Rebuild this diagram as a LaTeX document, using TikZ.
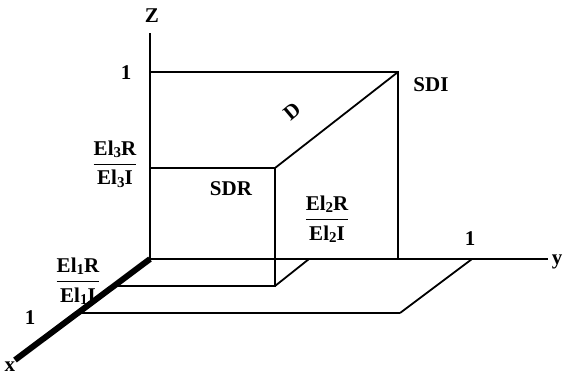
\documentclass[tikz,border=0pt]{standalone}
\usepackage{amsmath}
\usepackage{fontspec}
\setmainfont{Liberation Serif}
\usepackage{tikz}
\usetikzlibrary{positioning}
\newcommand{\elsub}[1]{\raisebox{-.25ex}{\fontsize{7.5}{8}\selectfont #1}}
\newcommand{\elfrac}[1]{$\dfrac{\text{El\elsub{#1}R}}{\text{El\elsub{#1}I}}$}

\begin{document}
\begin{tikzpicture}[
  x=0.5pt, y=-0.5pt,
  font=\fontsize{10.5}{12}\selectfont\bfseries,
  axis/.style={line width=1.2pt},
  xaxis/.style={line width=3pt},
  frame/.style={line width=0.6pt},
  diag/.style={line width=0.9pt},
  lbl/.style={inner sep=0pt},
]
\useasboundingbox (0,0) rectangle (563,377);

% axes end points
\coordinate (O)  at (150,259);
\coordinate (zt) at (150,33);
\coordinate (yt) at (548,259);
\coordinate (xt) at (15,360);

% corners of the unit box and of the plane
\coordinate (zone)  at (150,72);
\coordinate (sdi)   at (398,72);
\coordinate (sdib)  at (398,259);
\coordinate (elz)   at (150,168);
\coordinate (sdr)   at (275,168);
\coordinate (sdrf)  at (275,286);
\coordinate (xa)    at (117,286);
\coordinate (ya)    at (309,259);
\coordinate (xone)  at (81,313);
\coordinate (bcorn) at (400,313);
\coordinate (yone)  at (472,259);

\draw[frame] (zone) -- (sdi) -- (sdib);
\draw[frame] (elz) -- (sdr) -- (sdrf) -- (xa);
\draw[diag]  (sdrf) -- (ya);
\draw[diag]  (sdr) -- (sdi);
\draw[frame] (xone) -- (bcorn);
\draw[diag]  (bcorn) -- (yone);

\draw[axis]  (O) -- (zt);
\draw[axis]  (O) -- (yt);
\draw[xaxis] (O) -- (xt);

\node[lbl] (zlbl)  at (152,16)  {Z};
\node[lbl] (ylbl)  at (557,262) {y};
\node[lbl] (xlbl)  at (10,367)  {x};
\node[lbl] (zonel) at (126,73)  {1};
\node[lbl] (yonel) at (470,239) {1};
\node[lbl] (xonel) at (30,318)  {1};
\node[lbl] (sdil)  at (431,85)  {SDI};
\node[lbl] (sdrl)  at (231,189) {SDR};
\node[lbl, rotate=40] (dl) at (292,111) {D};
\node[lbl] (el3) at (115,164) {\elfrac{3}};
\node[lbl] (el2) at (327,219) {\elfrac{2}};
\node[lbl] (el1) at (78,281)  {\elfrac{1}};
\end{tikzpicture}
\end{document}
